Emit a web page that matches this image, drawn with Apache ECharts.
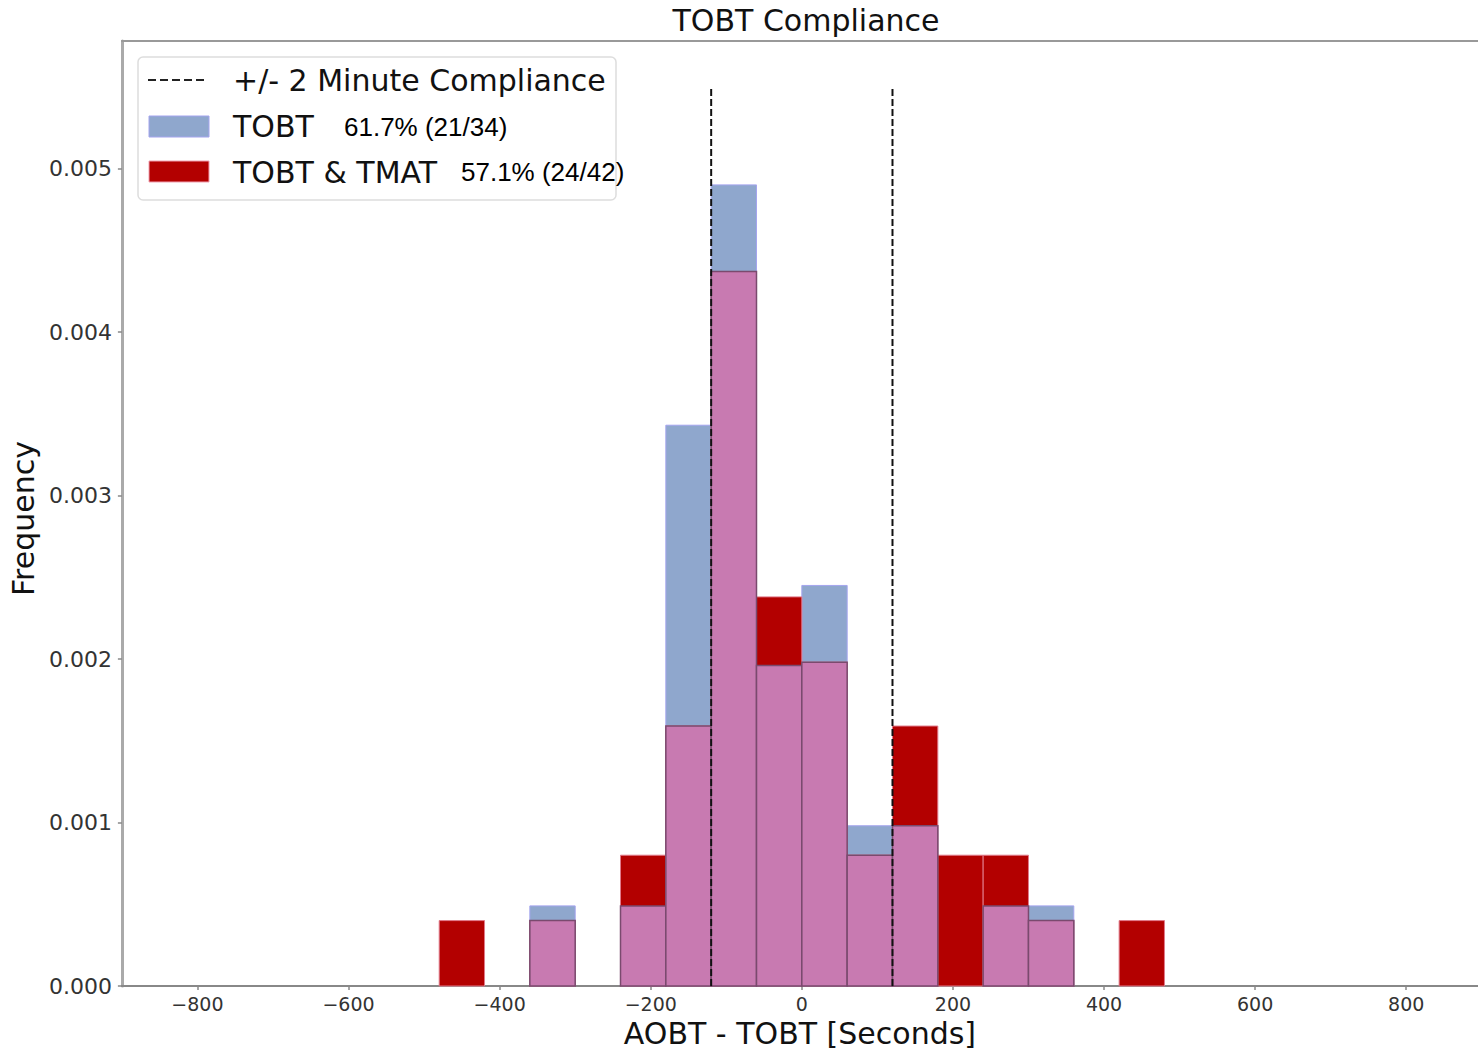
<!DOCTYPE html>
<html>
<head>
<meta charset="utf-8">
<script src="https://cdn.jsdelivr.net/npm/echarts@6/dist/echarts.min.js"></script>
<style>
html,body{margin:0;padding:0;background:#fff;}
#chart{width:1478px;height:1053px;}
</style>
</head>
<body>
<div id="chart"></div>
<script>
// ---- data ----
const binStarts = [-480,-420,-360,-300,-240,-180,-120,-60,0,60,120,180,240,300,360,420];
const binWidth = 60;
const tobtValues = [0,0,0.00049,0,0.00049,0.00343,0.0049,0.00196,0.00245,0.00098,0.00098,0,0.00049,0.00049,0,0];
const tmatValues = [0.0004,0,0.0004,0,0.0008,0.00159,0.00437,0.00238,0.00198,0.0008,0.00159,0.0008,0.0008,0.0004,0,0.0004];
const overlapValues = [0,0,0.0004,0,0.00049,0.00159,0.00437,0.00196,0.00198,0.0008,0.00098,0,0.00049,0.0004,0,0];
const complianceX = [-120, 120];
const complianceTop = 0.0055;
const xTicks = [-800,-600,-400,-200,0,200,400,600,800];
const yTicks = [0,0.001,0.002,0.003,0.004,0.005];
const titleText = 'TOBT Compliance';
const xName = 'AOBT - TOBT [Seconds]';
const yName = 'Frequency';
const legendLabels = ['+/- 2 Minute Compliance', 'TOBT', 'TOBT & TMAT'];
const legendStats = ['61.7% (21/34)', '57.1% (24/42)'];

const BLUE = '#8fa7cd', RED = '#b30000', PINK = '#c87ab1';
const FONT = '"DejaVu Sans", sans-serif';

function toData(vals){
  return binStarts.map((b,i)=>[b, b+binWidth, vals[i]]);
}
function barRenderer(fill, stroke, lw){
  return function(params, api){
    const v = api.value(2);
    if (!v) return null;
    const p0 = api.coord([api.value(0), 0]);
    const p1 = api.coord([api.value(1), v]);
    return {
      type:'rect',
      shape:{x:p0[0], y:p1[1], width:p1[0]-p0[0], height:p0[1]-p1[1]},
      style:{fill:fill, stroke:stroke, lineWidth:lw}
    };
  };
}
const fmtX = v => v < 0 ? '\u2212' + Math.abs(v) : String(v);

const chart = echarts.init(document.getElementById('chart'), null, {renderer:'svg'});
const dashedSeries = complianceX.map(x => ({
  type:'line', xAxisIndex:0, yAxisIndex:0, silent:true, symbol:'none', z:10,
  data:[[x,0],[x,complianceTop]],
  lineStyle:{color:'#111', width:2, type:[7,3]}
}));

chart.setOption({
  animation:false,
  title:{
    text:titleText, left:801, top:0, textAlign:'center',
    textStyle:{fontFamily:FONT, fontSize:30, fontWeight:'normal', color:'#111'}
  },
  grid:{left:121, right:0, top:41, bottom:66},
  xAxis:[{
    type:'value', min:-900, max:895, position:'bottom',
    name:xName, nameLocation:'middle', nameGap:32,
    nameTextStyle:{fontFamily:FONT, fontSize:30, color:'#111'},
    axisLine:{show:true, onZero:false, lineStyle:{color:'#888', width:2}},
    axisTick:{show:true, length:4, customValues:xTicks, lineStyle:{color:'#888', width:1.5}},
    axisLabel:{customValues:xTicks, formatter:fmtX, margin:8, fontFamily:FONT, fontSize:19, color:'#333'},
    splitLine:{show:false}
  },{
    type:'value', min:-900, max:895, position:'top',
    axisLine:{show:true, onZero:false, lineStyle:{color:'#999', width:2}},
    axisTick:{show:false}, axisLabel:{show:false}, splitLine:{show:false}
  }],
  yAxis:{
    type:'value', min:0, max:0.00578, position:'left',
    name:yName, nameLocation:'middle', nameGap:77, nameRotate:90,
    nameTextStyle:{fontFamily:FONT, fontSize:30, color:'#111', padding:[0,10,3,0]},
    axisLine:{show:true, onZero:false, lineStyle:{color:'#aaa', width:3}},
    axisTick:{show:true, length:4, customValues:yTicks, lineStyle:{color:'#888', width:1.5}},
    axisLabel:{customValues:yTicks, formatter:v=>v.toFixed(3), margin:10, fontFamily:FONT, fontSize:22, color:'#333'},
    splitLine:{show:false}
  },
  series:[
    {type:'custom', name:'TOBT', renderItem:barRenderer(BLUE,'#a4a4ee',1), encode:{x:[0,1], y:2}, data:toData(tobtValues), z:2},
    {type:'custom', name:'TOBT & TMAT', renderItem:barRenderer(RED,'#e07a8a',1), encode:{x:[0,1], y:2}, data:toData(tmatValues), z:3},
    {type:'custom', name:'overlap', renderItem:barRenderer(PINK,'#7a4a6e',1.5), encode:{x:[0,1], y:2}, data:toData(overlapValues), z:4}
  ].concat(dashedSeries),
  graphic:[
    {type:'rect', z:100, shape:{x:138, y:57, width:478, height:143, r:5},
      style:{fill:'rgba(255,255,255,0.85)', stroke:'#dddddd', lineWidth:1.5}},
    {type:'line', z:101, shape:{x1:148, y1:80, x2:207, y2:80},
      style:{stroke:'#222', lineWidth:2, lineDash:[8,4]}},
    {type:'text', z:101, x:233, y:80, style:{text:legendLabels[0], font:'30px "DejaVu Sans"', fill:'#111', verticalAlign:'middle'}},
    {type:'rect', z:101, shape:{x:149, y:116, width:60, height:21}, style:{fill:BLUE, stroke:'#a4a4ee', lineWidth:1}},
    {type:'text', z:101, x:233, y:126, style:{text:legendLabels[1], font:'30px "DejaVu Sans"', fill:'#111', verticalAlign:'middle'}},
    {type:'text', z:101, x:344, y:127, style:{text:legendStats[0], font:'26px "Liberation Sans"', fill:'#000', verticalAlign:'middle'}},
    {type:'rect', z:101, shape:{x:149, y:161, width:60, height:21}, style:{fill:RED, stroke:'#f0a0b0', lineWidth:1}},
    {type:'text', z:101, x:233, y:172, style:{text:legendLabels[2], font:'30px "DejaVu Sans"', fill:'#111', verticalAlign:'middle'}},
    {type:'text', z:101, x:461, y:172, style:{text:legendStats[1], font:'26px "Liberation Sans"', fill:'#000', verticalAlign:'middle'}}
  ]
});
</script>
</body>
</html>
